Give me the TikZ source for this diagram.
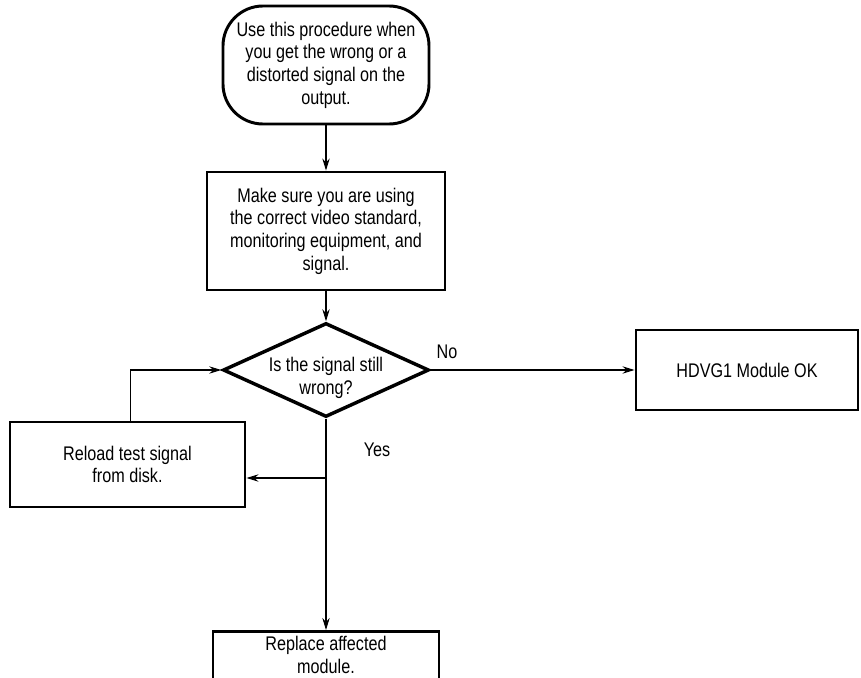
\documentclass[tikz,border=0pt]{standalone}
\usepackage{fontspec}
\setmainfont{Liberation Sans}[FakeStretch=0.82]
\usetikzlibrary{shapes.geometric,arrows.meta,positioning}
\begin{document}
\begin{tikzpicture}[x=0.75pt,y=-0.75pt,font=\fontsize{14.8}{17}\selectfont,
  >={Stealth[length=9pt,width=5.5pt]},
  tbox/.style={draw,line width=2.2pt,rounded corners=30pt,align=center,minimum width=154.5pt,minimum height=88.5pt,inner sep=0pt},
  sbox/.style={draw,line width=2.2pt,align=center,inner sep=0pt},
  dbox/.style={draw,diamond,line width=2.6pt,minimum width=154.5pt,minimum height=70.5pt,inner sep=0pt},
  link/.style={->,line width=0.8pt}]
\useasboundingbox (0,0) rectangle (861,678);
\clip (0,0) rectangle (861,678);
% main column
\node[tbox] (start) at (326,65) {Use this procedure when\\you get the wrong or a\\distorted signal on the\\output.};
\node[sbox,minimum width=178.5pt,minimum height=88.5pt] (check) at (326,231) {Make sure you are using\\the correct video standard,\\monitoring equipment, and\\signal.};
\node[dbox] (wrong) at (326,370) {};
\node[align=center] (wrongtxt) at (326,378) {Is the signal still\\wrong?};
\node[sbox,minimum width=169.5pt,minimum height=60pt,anchor=north] (replace) at (326,630) {};
\node[align=center] (replacetxt) at (326,655) {Replace affected\\module.};
% side boxes
\node[sbox,minimum width=166.5pt,minimum height=60pt] (ok) at (747,370) {HDVG1 Module OK};
\node[sbox,minimum width=176.25pt,minimum height=63.75pt] (reload) at (127.5,464.5) {Reload test signal\\from disk.};
\node (nolbl) at (447,352) {No};
\node (yeslbl) at (377,450) {Yes};
% connectors
\draw[link] (start) -- (check);
\draw[link] (check) -- (wrong);
\draw[link] (wrong.east) -- (ok.west);
\draw[link] (wrong.south) -- (replace.north);
\coordinate (tap) at (326,478);
\draw[link] (tap) -- (tap -| reload.east);
\draw[link] ([xshift=2pt]reload.north) |- (wrong.west);
\end{tikzpicture}
\end{document}
